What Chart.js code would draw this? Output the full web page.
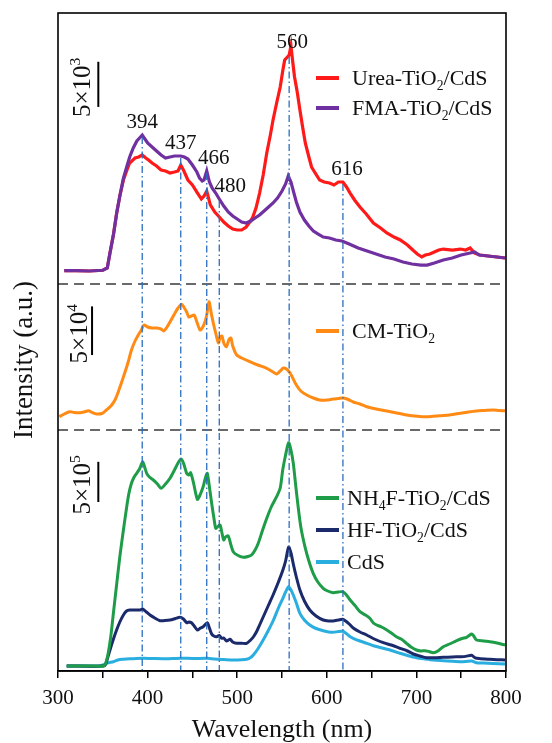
<!DOCTYPE html>
<html>
<head>
<meta charset="utf-8">
<script src="https://cdn.jsdelivr.net/npm/chart.js"></script>
<style>
html,body{margin:0;padding:0;background:#fff;}
canvas{display:block;}
</style>
</head>
<body>
<canvas id="c" width="552" height="743"></canvas>
<script>
// ---------------- data (wavelength nm, PL counts) ----------------
const urea = [[307,1470],[320,1490],[335,1440],[350,1520],[355,1770],[358,3430],[362,5540],[365.5,7860],[369,9740],[373,11510],[377,12620],[380,13390],[386,13950],[390,14060],[394,14280],[398,13950],[401,13730],[405,13390],[410,13060],[415,12620],[420,12510],[425,12290],[430,12400],[434,12510],[437,13170],[440,12620],[445,11510],[450,10960],[455,10180],[460,9410],[463,9740],[466,10290],[470,8750],[475,7970],[480,7420],[485,6860],[490,6420],[495,6090],[500,5980],[505,5980],[510,6310],[514,6860],[517,7310],[521,8410],[525,10070],[529,12070],[533,14500],[537,16490],[540,18150],[544,20040],[548,21810],[551,23690],[553,24800],[556,25130],[558,25350],[560,26350],[562,24580],[564,22910],[567,21250],[570,19260],[573,17380],[576,15610],[580,14060],[583,12950],[587,12290],[592,11510],[597,11290],[603,11180],[608,10960],[613,11290],[618,11290],[622,10740],[626,10070],[631,9300],[637,8520],[644,7750],[652,6750],[660,6200],[667,5650],[675,5200],[682,4870],[690,4320],[696,3760],[701,3320],[706,2990],[710,3210],[715,3320],[720,3540],[725,3760],[730,3870],[740,3760],[749,3870],[755,3760],[760,3990],[765,3430],[771,3210],[780,3100],[790,2990],[799,2880]];
const fma = [[307,1470],[320,1490],[335,1440],[350,1520],[355,1770],[358,3430],[362,5540],[365.5,7860],[369,9740],[373,11730],[377,13060],[380,14060],[384,15060],[388,15830],[391,16160],[394,16490],[397,16050],[400,15610],[405,15170],[410,14720],[415,14280],[420,13950],[425,14060],[430,14170],[434,14170],[437,14170],[441,14060],[445,13840],[450,13170],[455,12400],[458,11730],[461,11400],[463,11510],[466,12510],[469,11290],[472,10630],[476,10070],[480,9410],[485,8630],[490,7970],[495,7530],[500,7200],[505,6860],[510,6750],[515,6970],[520,7310],[525,7640],[530,8080],[535,8520],[540,8970],[545,9520],[550,10290],[554,11070],[557,11960],[560,11290],[563,10180],[566,9080],[570,7970],[575,7080],[580,6420],[585,5870],[590,5540],[596,5200],[603,5090],[610,4870],[617,4760],[625,4430],[635,3990],[645,3650],[655,3320],[665,2990],[675,2770],[685,2440],[695,2210],[705,2100],[712,2100],[720,2320],[730,2660],[740,2880],[750,3210],[760,3430],[765,3540],[770,3210],[780,3100],[790,2990],[799,2880]];
const cmTiO2 = [[301.5,13660],[307,16440],[313,18800],[318,17980],[324.5,17770],[329,18500],[334,19830],[338,18000],[343,16440],[349,16950],[354,20550],[359,24660],[363.6,30820],[368,41100],[373,54450],[378,68840],[382,82190],[386,91440],[389.6,97600],[393,102740],[396,107880],[400,105820],[405,104800],[410,104800],[415,103770],[418,101710],[421,104800],[425,110960],[430,119180],[434,125340],[438,129140],[441,125340],[443.6,121230],[446,116100],[449,117130],[452,118150],[455,110960],[458.5,102740],[461,104800],[464,110960],[466,118150],[468.5,131810],[471,120210],[473.3,109930],[476,99660],[479,89380],[481,95550],[483,96580],[485,89380],[488,85580],[491,93490],[493,94520],[495,86300],[499.4,77060],[505,73970],[514,70170],[523,66780],[533,63390],[540,59590],[544,57530],[548,60610],[551.5,63700],[555,62670],[559,58560],[562,53420],[566,46230],[571,40070],[577.6,35960],[585,32880],[592,30820],[600,30820],[607,31850],[613,32370],[618.5,32880],[624,31330],[629.6,28770],[637,26710],[644.5,23940],[655,21580],[667,19520],[678,17470],[689,15410],[698,14380],[707.7,13660],[717,13870],[726,14690],[737,15410],[748.7,17160],[758,18490],[767,19520],[776,20030],[785.8,20550],[792,20030],[799,19830]];
const nh4f = [[309.7,62240],[320,62240],[335,62240],[350.6,62240],[353,87140],[356,220330],[359,435680],[361.8,718250],[365,1033180],[369,1422800],[373,1755170],[376.7,2045200],[379,2203300],[382,2336500],[385,2414900],[387.8,2461000],[391,2514500],[394.5,2605400],[397,2527000],[399,2461000],[402,2414900],[406.4,2377600],[411,2327800],[415,2274300],[420,2327800],[425,2398700],[430,2502000],[434,2589200],[437.3,2639000],[440,2589200],[443.6,2461000],[446,2439800],[448,2468500],[451,2352700],[455.5,2137300],[458,2178400],[462,2294200],[464.5,2402500],[466.6,2461000],[469,2290400],[471.5,2087500],[474,1904500],[476,1776300],[478,1792500],[480.8,1817400],[483,1717800],[485,1630700],[487,1668000],[490,1680500],[493,1568400],[495.6,1485100],[500,1444000],[506.8,1415300],[512,1425300],[516,1444000],[520,1506200],[523.5,1589600],[528,1742700],[533,1900800],[538,2041500],[544,2169700],[548,2278000],[550.8,2502000],[554,2688800],[557.4,2841900],[560,2751000],[562.6,2585500],[565,2340200],[568,2045200],[571,1792500],[575.6,1547300],[580,1369300],[584.8,1216200],[590,1107900],[596,1029400],[601,995800],[607,974700],[613,983400],[617.6,987100],[621,958500],[626,883800],[631,821600],[637,738200],[643,697100],[648,656000],[652,597500],[655.6,572600],[661,547700],[667,510400],[672,473000],[677.7,427000],[683,398300],[689,344800],[694,298800],[700,261400],[705,249000],[709.6,252700],[714,242700],[719,227800],[724,249000],[730,302500],[737,336100],[745,377200],[751,404600],[756,419500],[761.7,460600],[764,435700],[767,385900],[775,373400],[782,364700],[790,348500],[799,323600]];
const hf = [[309.7,62240],[350.6,62240],[353,80900],[356,186700],[358,261400],[361.5,385900],[365.4,510400],[369,609900],[373,697100],[376.5,746900],[380,759300],[386,759300],[391.5,759300],[394.5,771800],[398,740700],[402.7,697100],[408,659700],[413.8,626100],[419,628000],[425,634800],[431,653000],[436,668500],[440,647300],[443.6,601300],[446,610000],[449,601300],[452,560200],[455.5,510400],[459,535300],[462,551500],[466.6,601300],[469,535300],[471.5,460600],[474,435700],[477,427000],[480,441900],[482.6,407000],[485,410800],[488,373400],[492,394600],[495,361000],[499.4,344800],[505,344800],[510.5,344800],[515,385900],[518,423200],[522,497900],[525,572600],[529,672200],[535,821600],[540.5,958500],[546,1107900],[551,1257200],[554,1369300],[557.4,1543600],[560,1468900],[562.6,1331900],[566,1170100],[570,1008300],[575,871400],[581,759300],[588,684600],[596,634800],[602,622400],[607,622400],[613,634800],[617.6,643600],[621,622400],[625,585100],[629.5,535300],[637,485500],[644.5,448100],[653,398300],[663,352300],[672,323600],[681.7,282600],[690,249000],[696.6,211600],[704,186700],[711.5,165600],[720,165600],[730,170500],[740,174300],[748.8,178000],[755,182000],[761.7,195400],[765,168000],[770,155600],[782,145600],[790,140700],[799,136900]];
const cds = [[309.7,62240],[345,62240],[350,74700],[355,99600],[361.8,115800],[367,136900],[373,145600],[380,151900],[384,153100],[394.5,158100],[405,155600],[420,153100],[437,159300],[450,155600],[466.6,158100],[475,149400],[485,143200],[495.6,136900],[505,139400],[510.5,145600],[515,168000],[518,199200],[523,273900],[529,385900],[535,510400],[540.5,634800],[546,784200],[551,905000],[554,983400],[557.4,1049400],[560,1008300],[562.6,946000],[566,846500],[570,718300],[575,634800],[581,572600],[588,529000],[596,501700],[602,485500],[607,481700],[613,491700],[617.6,494200],[621,473000],[625,435700],[629.5,407000],[637,373400],[644.5,344800],[653,311200],[663,282600],[672,255200],[681.7,220300],[690,192900],[700,165600],[710,149400],[719,136900],[730,128200],[740,120700],[748.8,115800],[755,118000],[761.7,124500],[767,103300],[775,99600],[785,93400],[799,87100]];

const seriesLabels = ['Urea-TiO2/CdS','FMA-TiO2/CdS','CM-TiO2','NH4F-TiO2/CdS','HF-TiO2/CdS','CdS'];
const xTickLabels = [300,400,500,600,700,800];
const peakLabels = ['394','437','466','480','560','616'];
const peakWavelengths = [394,437,466,480,558,618];
const scaleBarExp = ['3','4','5'];
const scaleBarSize = [5000,50000,500000];
const scaleBarBase = [19600,77000,2104000];
const scaleBarWavelength = [345,338,345];

// ---------------- styling ----------------
const FONT = '"Liberation Serif","Times New Roman",serif';
const colors = ['#ff1a1a','#7030a0','#ff8a14','#1e9c48','#1b2a6b','#2aaedf'];
const axisOf = ['yTop','yTop','yMid','yBot','yBot','yBot'];
const allSeries = [urea,fma,cmTiO2,nh4f,hf,cds];
const drawOrder = [2,1,1,1,2,3];

const datasets = allSeries.map((s,i)=>({
  label: seriesLabels[i],
  data: s.map(p=>({x:p[0],y:p[1]})),
  borderColor: colors[i], backgroundColor: colors[i],
  borderWidth: i<2 ? 3.2 : 3, pointRadius: 0, tension: i<2 ? 0 : 0.25,
  yAxisID: axisOf[i], clip: false, order: drawOrder[i]
}));

function interp(s, w){
  for(let i=1;i<s.length;i++){
    if(s[i][0]>=w){const a=s[i-1],b=s[i];return a[1]+(b[1]-a[1])*(w-a[0])/(b[0]-a[0]);}
  }
  return s[s.length-1][1];
}
function parts(label){ // digits become subscripts
  const out=[];let buf='';
  for(const ch of label){
    if(/[0-9]/.test(ch)){ if(buf){out.push([buf,null]);buf='';} out.push([ch,'sub']); }
    else buf+=ch;
  }
  if(buf) out.push([buf,null]);
  return out;
}
function richWidth(ctx, ps, size){
  let w=0; for(const [t,k] of ps){ctx.font=(k?size*0.62:size)+'px '+FONT; w+=ctx.measureText(t).width;} return w;
}
function rich(ctx, x, y, ps, size){
  let cx=x;
  for(const [t,k] of ps){
    const fs = k? size*0.62 : size;
    ctx.font = fs+'px '+FONT;
    const dy = k==='sub'? size*0.22 : (k==='sup'? -size*0.4 : 0);
    ctx.fillText(t,cx,y+dy);
    cx += ctx.measureText(t).width;
  }
}

const annot = {
  id:'annot',
  afterDatasetsDraw(chart){
    const ctx=chart.ctx, a=chart.chartArea, X=chart.scales.x;
    const yT=chart.scales.yTop, yM=chart.scales.yMid;
    ctx.save();
    // panel separators
    ctx.strokeStyle='#3a3a3a'; ctx.lineWidth=1.5; ctx.setLineDash([10,6]);
    [yT.bottom, yM.bottom].forEach(py=>{ctx.beginPath();ctx.moveTo(a.left,py);ctx.lineTo(a.right,py);ctx.stroke();});
    // peak marker lines + labels
    const dx=[0,0,7,11,3,4];
    peakWavelengths.forEach((w,i)=>{
      const v=Math.max(interp(urea,w),interp(fma,w));
      const py=yT.getPixelForValue(v);
      const px=X.getPixelForValue(w);
      ctx.strokeStyle='#2a6ebf'; ctx.lineWidth=1.3; ctx.setLineDash([7,3,1.5,3]);
      ctx.beginPath(); ctx.moveTo(px,py+2); ctx.lineTo(px,a.bottom); ctx.stroke();
      ctx.setLineDash([]);
      ctx.fillStyle='#111'; ctx.font='21px '+FONT; ctx.textAlign='center'; ctx.textBaseline='alphabetic';
      ctx.fillText(peakLabels[i], px+dx[i], py-7);
    });
    ctx.restore();
  },
  afterDraw(chart){
    const ctx=chart.ctx, a=chart.chartArea, X=chart.scales.x;
    ctx.save();
    ctx.setLineDash([]);
    ctx.strokeStyle='#000'; ctx.lineWidth=1.6;
    ctx.strokeRect(a.left,a.top,a.right-a.left,a.bottom-a.top);
    // scale bars
    ['yTop','yMid','yBot'].forEach((id,i)=>{
      const s=chart.scales[id];
      const px=X.getPixelForValue(scaleBarWavelength[i]);
      const y0=s.getPixelForValue(scaleBarBase[i]), y1=s.getPixelForValue(scaleBarBase[i]+scaleBarSize[i]);
      ctx.strokeStyle='#000'; ctx.lineWidth=2;
      ctx.beginPath(); ctx.moveTo(px,y0); ctx.lineTo(px,y1); ctx.stroke();
      const ps=[['5×10',null],[scaleBarExp[i],'sup']];
      const size=25;
      ctx.save();
      ctx.translate(px-(i===1?5:8),(y0+y1)/2+3);
      ctx.rotate(-Math.PI/2);
      ctx.fillStyle='#111'; ctx.textAlign='left'; ctx.textBaseline='alphabetic';
      const w=richWidth(ctx,ps,size);
      rich(ctx,-w/2,0,ps,size);
      ctx.restore();
    });
    // legends
    const rows=[{id:'yTop',off:65,gap:30,tx:352,items:[0,1]},{id:'yMid',off:47,gap:0,tx:352,items:[2]},{id:'yBot',off:68,gap:32,tx:347,items:[3,4,5]}];
    rows.forEach(r=>{
      const s=chart.scales[r.id];
      r.items.forEach((di,k)=>{
        const y=s.top+r.off+k*r.gap;
        ctx.strokeStyle=colors[di]; ctx.lineWidth=4;
        ctx.beginPath(); ctx.moveTo(316,y); ctx.lineTo(339,y); ctx.stroke();
        ctx.fillStyle='#111'; ctx.textAlign='left'; ctx.textBaseline='alphabetic';
        rich(ctx,r.tx,y+7,parts(seriesLabels[di]),22);
      });
    });
    // y title
    ctx.save();
    ctx.translate(32,(a.top+a.bottom)/2+18);
    ctx.rotate(-Math.PI/2);
    ctx.fillStyle='#111'; ctx.font='27px '+FONT; ctx.textAlign='center'; ctx.textBaseline='alphabetic';
    ctx.fillText('Intensity (a.u.)',0,0);
    ctx.restore();
    ctx.restore();
  }
};

const hiddenY = (w,min,max)=>({
  type:'linear', stack:'panels', stackWeight:w, min, max, display:true,
  ticks:{display:false}, grid:{display:false, drawTicks:false}, border:{display:false},
  afterFit(s){s.width=0;}
});

new Chart(document.getElementById('c'),{
  type:'line',
  data:{datasets},
  plugins:[annot],
  options:{
    responsive:false, animation:false, devicePixelRatio:1,
    layout:{padding:{left:58,right:46,top:13,bottom:0}},
    plugins:{legend:{display:false},tooltip:{enabled:false}},
    scales:{
      x:{
        type:'linear', min:300, max:800,
        ticks:{stepSize:50, autoSkip:false, maxRotation:0, padding:8, color:'#111',
               font:{family:FONT,size:21},
               callback:v=> xTickLabels.includes(v)? String(v):''},
        grid:{display:true, drawOnChartArea:false, drawTicks:true, tickLength:7, color:'#000', lineWidth:1.5},
        border:{display:true, color:'#000', width:1.5},
        title:{display:true, text:'Wavelength (nm)', color:'#111', font:{family:FONT,size:26,lineHeight:1}, padding:{top:0,bottom:0}},
        afterFit(s){s.height=72;}
      },
      yBot: hiddenY(241,0,3000000),
      yMid: hiddenY(146,0,150000),
      yTop: hiddenY(271,0,30000)
    }
  }
});
</script>
</body>
</html>
